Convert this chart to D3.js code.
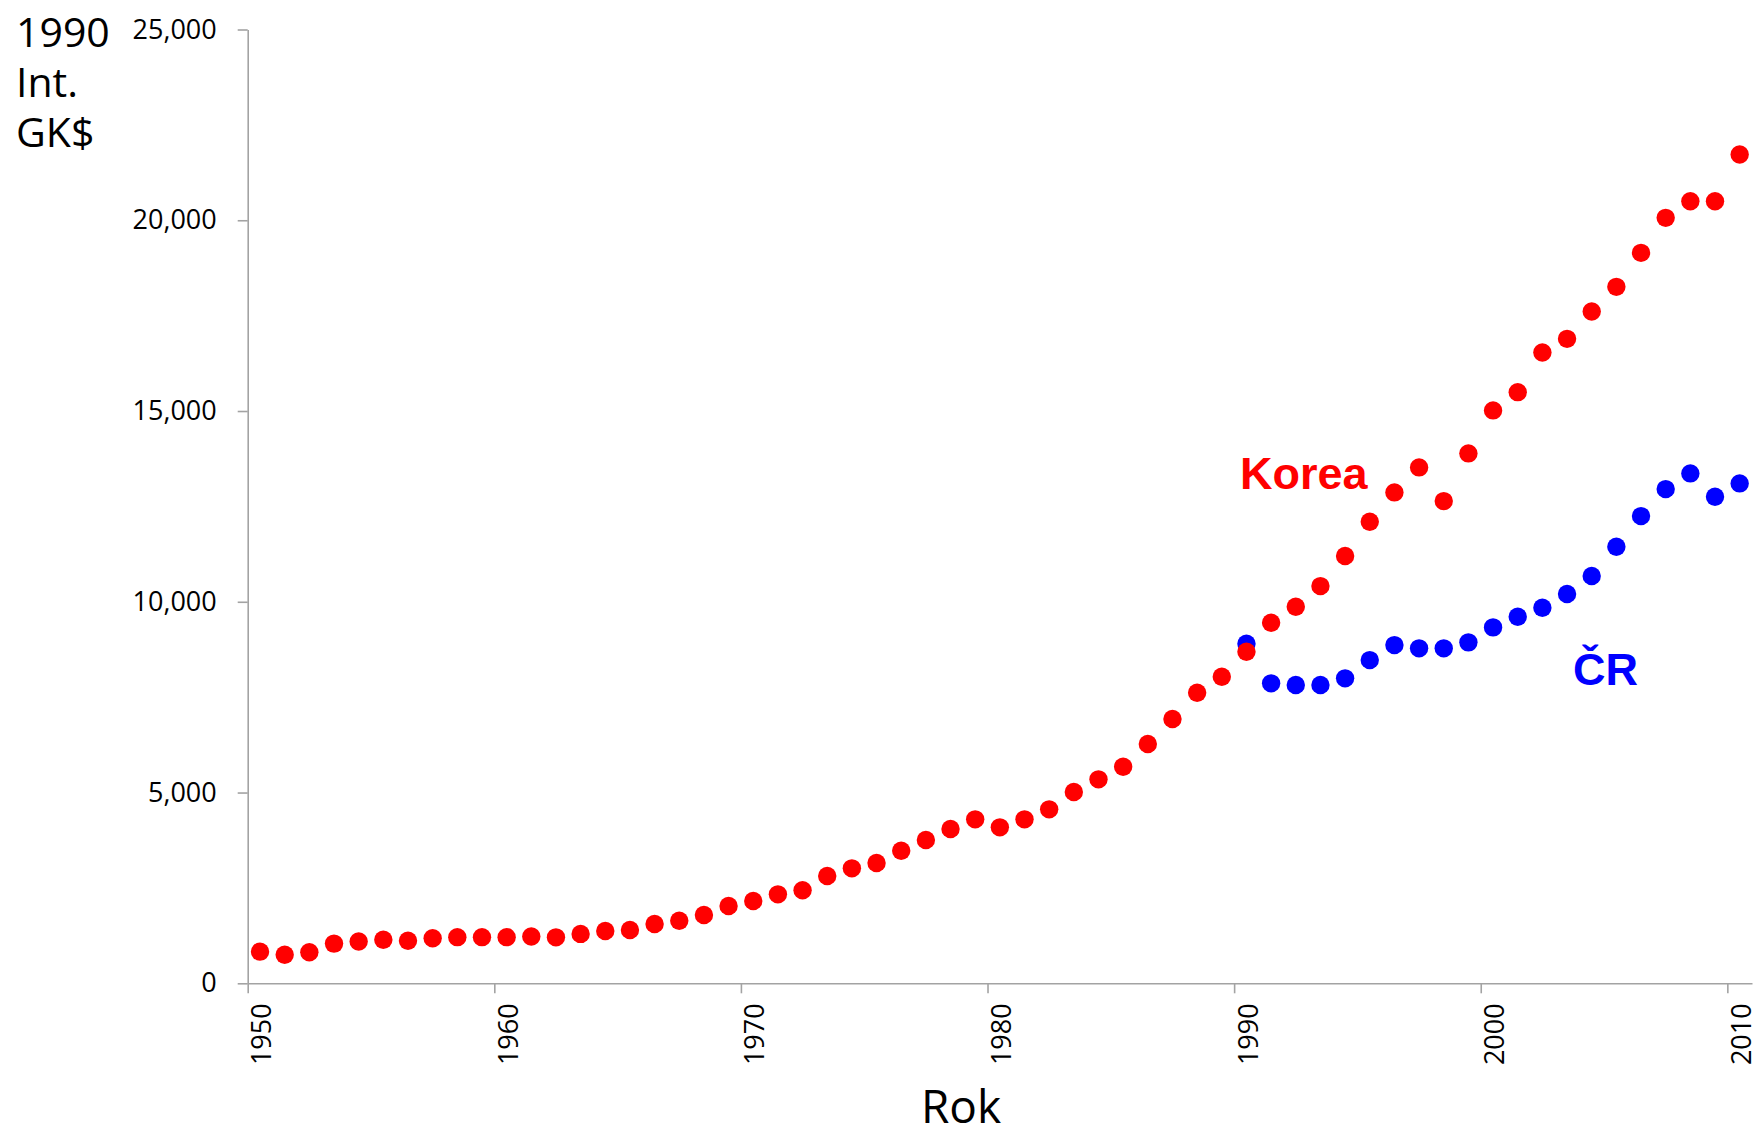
<!DOCTYPE html>
<html>
<head>
    <meta charset="utf-8">
    <title>Korea vs CR GDP</title>
    <script type="text/javascript" src="https://cdnjs.cloudflare.com/ajax/libs/d3/7.8.5/d3.min.js"></script>
    <style>
        body{
            margin:0px;
            background-color:white;
        }
        svg{
            position:absolute;
            top:0px;
            left:0px;
        }
        .tickText{
            font-family:"Open Sans", "Noto Sans", sans-serif;
            font-size:27px;
            fill:#000;
        }
    </style>
</head>
<body>
    <div id="chart"></div>

    <script type="text/javascript">
        // values (1990 Int. GK$)
        var koreaYears = d3.range(1950, 2011)
        var koreaValues = [
            830, 750, 815, 1040, 1095, 1140, 1115, 1180, 1210, 1210,
            1210, 1225, 1205, 1295, 1371, 1397, 1554, 1640, 1790, 2026,
            2157, 2332, 2437, 2812, 3013, 3153, 3475, 3755, 4043, 4297,
            4088, 4297, 4560, 5013, 5346, 5676, 6271, 6926, 7615, 8035,
            8690, 9450, 9870, 10411, 11198, 12097, 12867, 13522, 12639, 13889,
            15016, 15495, 16535, 16892, 17610, 18255, 19146, 20063, 20500, 20500,
            21724
        ]
        var crYears = d3.range(1990, 2011)
        var crValues = [
            8900, 7862, 7817, 7817, 7993, 8472, 8865, 8779, 8779, 8936,
            9329, 9607, 9843, 10202, 10674, 11441, 12246, 12953, 13365, 12752,
            13103
        ]
        var yTicks = [0, 5000, 10000, 15000, 20000, 25000]
        var xTicks = [1950, 1960, 1970, 1980, 1990, 2000, 2010]
        var unitLines = ["1990", "Int.", "GK$"]

        var width = 1758
        var height = 1130
        var plotLeft = 247.7
        var plotRight = 1752
        var plotTop = 29.5
        var plotBottom = 983.3

        var svg = d3.select("#chart").append("svg")
            .attr("width", width)
            .attr("height", height)

        var xScale = d3.scaleLinear().domain([1950, 2011]).range([plotLeft, plotRight])
        var yScale = d3.scaleLinear().domain([0, 25000]).range([plotBottom, plotTop])

        //y axis
        var yAxis = svg.append("g")
            .attr("transform", "translate(" + plotLeft + ",0)")
            .call(d3.axisLeft(yScale).tickValues(yTicks).tickSize(10).tickSizeOuter(0).tickPadding(21)
                .tickFormat(d3.format(",")))
        yAxis.selectAll("text").attr("class", "tickText")

        //x axis, labels turned sideways
        var xAxis = svg.append("g")
            .attr("transform", "translate(0," + plotBottom + ")")
            .call(d3.axisBottom(xScale).tickValues(xTicks).tickSize(10).tickSizeOuter(0)
                .tickFormat(d3.format("d")))
        xAxis.selectAll("text")
            .attr("class", "tickText")
            .attr("y", null)
            .attr("dy", null)
            .attr("text-anchor", "end")
            .attr("transform", "translate(23,20) rotate(-90)")

        svg.selectAll(".domain, .tick line")
            .attr("stroke", "#a3a3a3")
            .attr("stroke-width", 1.6)

        //unit label top left
        svg.selectAll(".unit")
            .data(unitLines)
            .enter()
            .append("text")
            .attr("class", "unit")
            .attr("x", 16)
            .attr("y", function(d, i){ return 46.7 + i * 50 })
            .attr("font-family", "Open Sans, Noto Sans, sans-serif")
            .attr("font-size", "41px")
            .attr("fill", "#000")
            .text(function(d){ return d })

        svg.append("text")
            .attr("x", 961)
            .attr("y", 1123)
            .attr("text-anchor", "middle")
            .attr("font-family", "Open Sans, Noto Sans, sans-serif")
            .attr("font-size", "46px")
            .attr("fill", "#000")
            .text("Rok")

        // CR first so Korea sits on top where they touch in 1990
        svg.selectAll(".cr")
            .data(crValues)
            .enter()
            .append("circle")
            .attr("class", "cr")
            .attr("cx", function(d, i){ return xScale(crYears[i] + 0.5) })
            .attr("cy", function(d){ return yScale(d) })
            .attr("r", 9.2)
            .attr("fill", "#0000ff")

        svg.selectAll(".korea")
            .data(koreaValues)
            .enter()
            .append("circle")
            .attr("class", "korea")
            .attr("cx", function(d, i){ return xScale(koreaYears[i] + 0.5) })
            .attr("cy", function(d){ return yScale(d) })
            .attr("r", 9.2)
            .attr("fill", "#ff0000")

        svg.append("text")
            .attr("x", 1240)
            .attr("y", 489)
            .attr("font-family", "Liberation Sans, Arial, sans-serif")
            .attr("font-weight", "bold")
            .attr("font-size", "45px")
            .attr("fill", "#ff0000")
            .text("Korea")

        svg.append("text")
            .attr("x", 1573)
            .attr("y", 685)
            .attr("font-family", "Liberation Sans, Arial, sans-serif")
            .attr("font-weight", "bold")
            .attr("font-size", "45px")
            .attr("fill", "#0000ff")
            .text("ČR")
    </script>
</body>
</html>
